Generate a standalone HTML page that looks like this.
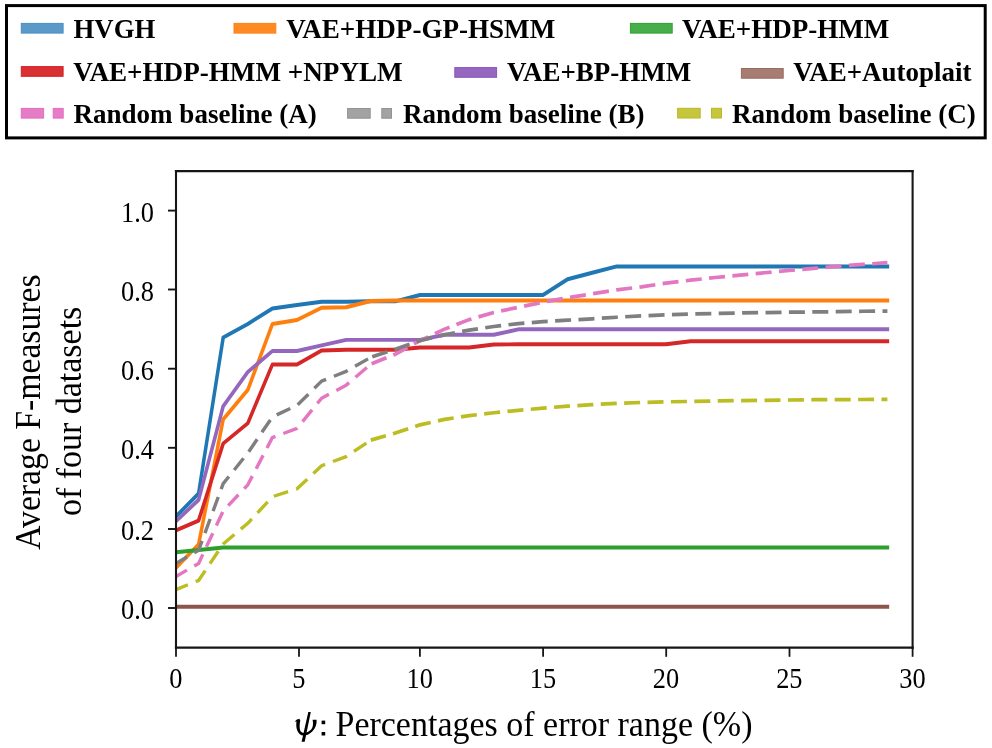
<!DOCTYPE html>
<html><head><meta charset="utf-8"><title>chart</title>
<style>
html,body{margin:0;padding:0;background:#fff;}
body{width:992px;height:748px;overflow:hidden;}
svg{display:block;font-kerning:normal;will-change:transform;font-family:"Liberation Serif",serif;fill:#000;}
</style></head><body>
<svg width="992" height="748" viewBox="0 0 992 748">
<rect x="0" y="0" width="992" height="748" fill="#ffffff"/>
<!-- legend -->
<g id="legend">
<rect x="6.5" y="5.6" width="978.7" height="132.3" fill="#fff" stroke="#000" stroke-width="3"/>
<rect x="21.3" y="23.4" width="41.8" height="9.7" fill="#5b9ac8" stroke="#4c8ec2" stroke-width="1"/>
<text x="73.5" y="37.8" font-size="26.5" font-weight="bold" textLength="81.8" lengthAdjust="spacingAndGlyphs">HVGH</text>
<rect x="234.0" y="23.4" width="41.8" height="9.7" fill="#ff8a24" stroke="#ff8012" stroke-width="1"/>
<text x="286.2" y="37.8" font-size="26.5" font-weight="bold" textLength="269.0" lengthAdjust="spacingAndGlyphs">VAE+HDP-GP-HSMM</text>
<rect x="630.4" y="23.4" width="41.8" height="9.7" fill="#48ae4b" stroke="#30a233" stroke-width="1"/>
<text x="682.1" y="37.8" font-size="26.5" font-weight="bold" textLength="207.3" lengthAdjust="spacingAndGlyphs">VAE+HDP-HMM</text>
<rect x="21.3" y="66.6" width="41.8" height="9.7" fill="#d83033" stroke="#d72024" stroke-width="1"/>
<text x="73.3" y="81.2" font-size="26.5" font-weight="bold" textLength="329.4" lengthAdjust="spacingAndGlyphs">VAE+HDP-HMM +NPYLM</text>
<rect x="454.8" y="67.6" width="41.8" height="9.7" fill="#9567c1" stroke="#8a55bd" stroke-width="1"/>
<text x="507.0" y="81.2" font-size="26.5" font-weight="bold" textLength="184.1" lengthAdjust="spacingAndGlyphs">VAE+BP-HMM</text>
<rect x="741.4" y="68.5" width="41.8" height="9.7" fill="#a67c73" stroke="#9c6a61" stroke-width="1"/>
<text x="793.2" y="81.2" font-size="26.5" font-weight="bold" textLength="178.3" lengthAdjust="spacingAndGlyphs">VAE+Autoplait</text>
<rect x="21.3" y="108.4" width="22.3" height="9.7" fill="#e47dc6" stroke="#e66cc0" stroke-width="1"/><rect x="53.2" y="108.4" width="10.0" height="9.7" fill="#e47dc6" stroke="#e66cc0" stroke-width="1"/>
<text x="73.5" y="122.9" font-size="26.5" font-weight="bold" textLength="243.2" lengthAdjust="spacingAndGlyphs">Random baseline (A)</text>
<rect x="347.6" y="108.5" width="22.6" height="9.7" fill="#a3a3a3" stroke="#929292" stroke-width="1"/><rect x="381.8" y="108.5" width="9.7" height="9.7" fill="#a3a3a3" stroke="#929292" stroke-width="1"/>
<text x="402.9" y="122.9" font-size="26.5" font-weight="bold" textLength="241.6" lengthAdjust="spacingAndGlyphs">Random baseline (B)</text>
<rect x="677.6" y="108.3" width="22.6" height="9.7" fill="#c5c63e" stroke="#b9ba24" stroke-width="1"/><rect x="711.5" y="108.3" width="10.0" height="9.7" fill="#c5c63e" stroke="#b9ba24" stroke-width="1"/>
<text x="732.0" y="122.9" font-size="26.5" font-weight="bold" textLength="243.9" lengthAdjust="spacingAndGlyphs">Random baseline (C)</text>
</g>
<!-- plot lines -->
<clipPath id="ax"><rect x="176.0" y="171.1" width="736.6" height="476.5"/></clipPath>
<g id="lines" clip-path="url(#ax)"><g transform="scale(1,1.12)">
<polyline points="174.00,462.96 198.60,440.65 223.20,301.32 247.80,289.27 272.40,275.44 297.00,272.25 321.60,269.41 346.20,269.41 370.80,269.06 395.40,269.06 420.00,263.38 444.60,263.38 469.20,263.38 493.80,263.38 518.40,263.38 543.00,263.38 567.60,249.34 592.20,243.53 616.80,237.86 641.40,237.86 666.00,237.86 690.60,237.86 715.20,237.86 739.80,237.86 764.40,237.86 789.00,237.86 813.60,237.86 838.20,237.86 862.80,237.86 887.40,237.86" fill="none" stroke="#1f77b4" stroke-width="3.55" stroke-linejoin="round" stroke-linecap="square"/>
<polyline points="174.00,508.73 198.60,486.03 223.20,374.35 247.80,348.12 272.40,289.27 297.00,285.72 321.60,274.73 346.20,274.37 370.80,268.70 395.40,268.35 420.00,268.35 444.60,268.35 469.20,268.35 493.80,268.35 518.40,268.35 543.00,268.35 567.60,268.35 592.20,268.35 616.80,268.35 641.40,268.35 666.00,268.35 690.60,268.35 715.20,268.35 739.80,268.35 764.40,268.35 789.00,268.35 813.60,268.35 838.20,268.35 862.80,268.35 887.40,268.35" fill="none" stroke="#ff7f0e" stroke-width="3.55" stroke-linejoin="round" stroke-linecap="square"/>
<polyline points="174.00,493.31 198.60,491.00 223.20,488.87 247.80,488.87 272.40,488.87 297.00,488.87 321.60,488.87 346.20,488.87 370.80,488.87 395.40,488.87 420.00,488.87 444.60,488.87 469.20,488.87 493.80,488.87 518.40,488.87 543.00,488.87 567.60,488.87 592.20,488.87 616.80,488.87 641.40,488.87 666.00,488.87 690.60,488.87 715.20,488.87 739.80,488.87 764.40,488.87 789.00,488.87 813.60,488.87 838.20,488.87 862.80,488.87 887.40,488.87" fill="none" stroke="#2ca02c" stroke-width="3.55" stroke-linejoin="round" stroke-linecap="square"/>
<polyline points="174.00,474.38 198.60,464.76 223.20,395.98 247.80,377.90 272.40,325.43 297.00,325.43 321.60,313.02 346.20,312.31 370.80,312.31 395.40,312.31 420.00,310.18 444.60,310.18 469.20,310.18 493.80,307.52 518.40,307.45 543.00,307.45 567.60,307.45 592.20,307.45 616.80,307.45 641.40,307.45 666.00,307.45 690.60,304.76 715.20,304.76 739.80,304.76 764.40,304.76 789.00,304.76 813.60,304.76 838.20,304.76 862.80,304.76 887.40,304.76" fill="none" stroke="#d62728" stroke-width="3.55" stroke-linejoin="round" stroke-linecap="square"/>
<polyline points="174.00,467.10 198.60,446.33 223.20,362.65 247.80,332.16 272.40,313.37 297.00,313.37 321.60,308.41 346.20,303.45 370.80,303.45 395.40,303.45 420.00,303.45 444.60,298.84 469.20,298.84 493.80,298.84 518.40,294.05 543.00,294.05 567.60,294.05 592.20,294.05 616.80,294.05 641.40,294.05 666.00,294.05 690.60,294.05 715.20,294.05 739.80,294.05 764.40,294.05 789.00,294.05 813.60,294.05 838.20,294.05 862.80,294.05 887.40,294.05" fill="none" stroke="#9467bd" stroke-width="3.55" stroke-linejoin="round" stroke-linecap="square"/>
<polyline points="174.00,541.70 198.60,541.70 223.20,541.70 247.80,541.70 272.40,541.70 297.00,541.70 321.60,541.70 346.20,541.70 370.80,541.70 395.40,541.70 420.00,541.70 444.60,541.70 469.20,541.70 493.80,541.70 518.40,541.70 543.00,541.70 567.60,541.70 592.20,541.70 616.80,541.70 641.40,541.70 666.00,541.70 690.60,541.70 715.20,541.70 739.80,541.70 764.40,541.70 789.00,541.70 813.60,541.70 838.20,541.70 862.80,541.70 887.40,541.70" fill="none" stroke="#8c564b" stroke-width="3.55" stroke-linejoin="round" stroke-linecap="square"/>
</g>
<polyline points="174.00,577.64 198.60,563.42 223.20,511.00 247.80,484.80 272.40,437.54 297.00,428.41 321.60,398.23 346.20,385.13 370.80,364.08" fill="none" stroke="#e377c2" stroke-width="3.4" stroke-linejoin="round" stroke-dasharray="15.0 8.4"/>
<polyline points="370.80,364.08 395.40,354.16 420.00,340.65 444.60,329.14 469.20,319.61 493.80,312.46 518.40,307.30 543.00,302.14 567.60,297.77 592.20,293.80 616.80,289.83 641.40,286.85 666.00,283.20 690.60,280.18 715.20,277.52 739.80,275.14 764.40,272.75 789.00,270.49 813.60,268.39 838.20,266.24 862.80,264.41 887.40,262.63" fill="none" stroke="#e377c2" stroke-width="3.7" stroke-linejoin="round" stroke-dasharray="16.0 7.4" stroke-dashoffset="22.53"/>
<polyline points="174.00,564.53 198.60,550.31 223.20,483.60 247.80,453.03 272.40,416.89 297.00,405.38 321.60,381.16 346.20,371.39 370.80,357.33" fill="none" stroke="#7f7f7f" stroke-width="3.4" stroke-linejoin="round" stroke-dasharray="15.0 8.4"/>
<polyline points="370.80,357.33 395.40,349.19 420.00,340.65 444.60,334.70 469.20,330.13 493.80,326.48 518.40,323.58 543.00,321.67 567.60,320.17 592.20,318.82 616.80,317.23 641.40,315.84 666.00,314.84 690.60,314.05 715.20,313.45 739.80,312.98 764.40,312.54 789.00,312.22 813.60,311.95 838.20,311.67 862.80,311.27 887.40,311.03" fill="none" stroke="#7f7f7f" stroke-width="3.7" stroke-linejoin="round" stroke-dasharray="16.0 7.4" stroke-dashoffset="21.87"/>
<polyline points="174.00,590.40 198.60,580.49 223.20,543.96 247.80,523.31 272.40,496.71 297.00,488.77 321.60,465.74 346.20,456.60 370.80,440.12" fill="none" stroke="#bcbd22" stroke-width="3.4" stroke-linejoin="round" stroke-dasharray="15.0 8.4"/>
<polyline points="370.80,440.12 395.40,433.02 420.00,424.84 444.60,419.40 469.20,415.70 493.80,412.76 518.40,410.34 543.00,408.16 567.60,406.17 592.20,404.59 616.80,403.39 641.40,402.44 666.00,401.85 690.60,401.41 715.20,400.93 739.80,400.61 764.40,400.34 789.00,400.02 813.60,399.70 838.20,399.58 862.80,399.50 887.40,399.42" fill="none" stroke="#bcbd22" stroke-width="3.7" stroke-linejoin="round" stroke-dasharray="16.0 7.4" stroke-dashoffset="0.31"/>
</g>
<!-- axes -->
<g stroke="#161616" stroke-linecap="square">
<line x1="176.0" y1="171.1" x2="912.6" y2="171.1" stroke-width="2.2"/>
<line x1="176.0" y1="647.6" x2="912.6" y2="647.6" stroke-width="2.2"/>
<line x1="176.0" y1="171.1" x2="176.0" y2="647.6" stroke-width="2.1"/>
<line x1="912.6" y1="171.1" x2="912.6" y2="647.6" stroke-width="2.1"/>
</g>
<g id="ticks">
<line x1="176.0" y1="647.6" x2="176.0" y2="656.8" stroke="#161616" stroke-width="1.8"/>
<text transform="translate(175.8,688.2) scale(0.915,1)" font-size="28.8" text-anchor="middle">0</text>
<line x1="299.0" y1="647.6" x2="299.0" y2="656.8" stroke="#161616" stroke-width="1.8"/>
<text transform="translate(298.8,688.2) scale(0.915,1)" font-size="28.8" text-anchor="middle">5</text>
<line x1="419.9" y1="647.6" x2="419.9" y2="656.8" stroke="#161616" stroke-width="1.8"/>
<text transform="translate(419.7,688.2) scale(0.915,1)" font-size="28.8" text-anchor="middle">10</text>
<line x1="543.1" y1="647.6" x2="543.1" y2="656.8" stroke="#161616" stroke-width="1.8"/>
<text transform="translate(542.9,688.2) scale(0.915,1)" font-size="28.8" text-anchor="middle">15</text>
<line x1="666.2" y1="647.6" x2="666.2" y2="656.8" stroke="#161616" stroke-width="1.8"/>
<text transform="translate(666.0,688.2) scale(0.915,1)" font-size="28.8" text-anchor="middle">20</text>
<line x1="789.5" y1="647.6" x2="789.5" y2="656.8" stroke="#161616" stroke-width="1.8"/>
<text transform="translate(789.3,688.2) scale(0.915,1)" font-size="28.8" text-anchor="middle">25</text>
<line x1="912.6" y1="647.6" x2="912.6" y2="656.8" stroke="#161616" stroke-width="1.8"/>
<text transform="translate(912.4,688.2) scale(0.915,1)" font-size="28.8" text-anchor="middle">30</text>
<line x1="168.0" y1="608.0" x2="176.0" y2="608.0" stroke="#161616" stroke-width="1.9"/>
<text transform="translate(153.9,619.2) scale(0.915,1)" font-size="28.8" text-anchor="end">0.0</text>
<line x1="168.0" y1="529.0" x2="176.0" y2="529.0" stroke="#161616" stroke-width="1.9"/>
<text transform="translate(153.9,540.2) scale(0.915,1)" font-size="28.8" text-anchor="end">0.2</text>
<line x1="168.0" y1="447.8" x2="176.0" y2="447.8" stroke="#161616" stroke-width="1.9"/>
<text transform="translate(153.9,459.0) scale(0.915,1)" font-size="28.8" text-anchor="end">0.4</text>
<line x1="168.0" y1="368.7" x2="176.0" y2="368.7" stroke="#161616" stroke-width="1.9"/>
<text transform="translate(153.9,379.9) scale(0.915,1)" font-size="28.8" text-anchor="end">0.6</text>
<line x1="168.0" y1="289.5" x2="176.0" y2="289.5" stroke="#161616" stroke-width="1.9"/>
<text transform="translate(153.9,300.7) scale(0.915,1)" font-size="28.8" text-anchor="end">0.8</text>
<line x1="168.0" y1="210.6" x2="176.0" y2="210.6" stroke="#161616" stroke-width="1.9"/>
<text transform="translate(153.9,221.8) scale(0.915,1)" font-size="28.8" text-anchor="end">1.0</text>
</g>
<!-- labels -->
<g id="psi" fill="#000">
<path d="M294.7,721.7 Q296.0,719.2 299.3,718.8 L300.3,720.4 C299.5,724 299.3,728.5 300.5,731.3 Q302,733.2 304.2,733.1 Q308,732.6 311.2,729.4 C312.8,727.5 313.6,724 312.6,719.7 L316.6,719.7 C317,724 315.5,728 312.5,731.3 Q308.5,735.5 303.6,735.5 Q298.8,735.5 296.9,729.5 C296.2,727 296.1,724 296.5,721.6 Q295.7,721.5 294.7,721.7 Z"/>
<path d="M308.3,712.0 L310.8,712.0 L304.7,741.8 L301.6,741.8 Z"/>
<rect x="321.6" y="720.6" width="3.6" height="3.6"/>
<rect x="321.6" y="732.0" width="3.6" height="3.5"/>
</g>
<text id="xl" transform="translate(335.5,735.6) scale(0.944,1)" font-size="36">Percentages of error range (%)</text>
<text id="yl1" transform="translate(40.2,412.1) rotate(-90)" font-size="36" text-anchor="middle" textLength="275.4" lengthAdjust="spacingAndGlyphs" style="font-kerning:normal">Average F-measures</text>
<text id="yl2" transform="translate(80.6,411.4) rotate(-90)" font-size="36" text-anchor="middle" textLength="209.4" lengthAdjust="spacingAndGlyphs">of four datasets</text>
</svg>
</body></html>
